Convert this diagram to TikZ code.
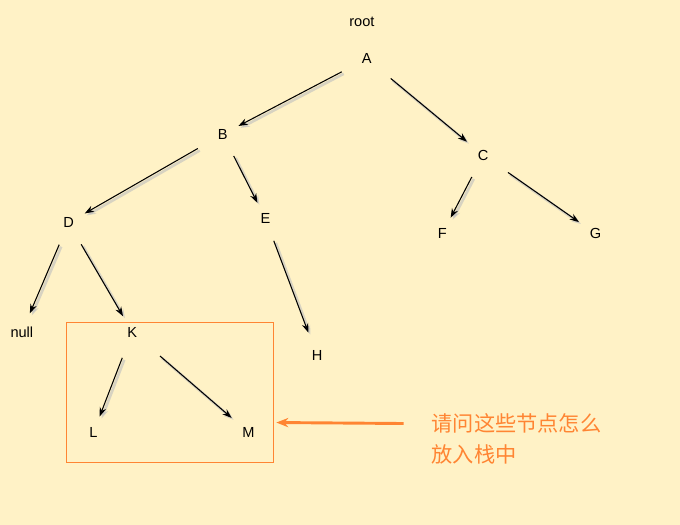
\documentclass[tikz,border=0pt]{standalone}
\usepackage{fontspec}
\setmainfont{Liberation Sans}
\newfontfamily\cjk{Noto Sans CJK SC}
\usetikzlibrary{arrows.meta}
\definecolor{bg}{HTML}{FFF2C6}
\definecolor{org}{HTML}{FF8533}
\begin{document}
\begin{tikzpicture}[x=0.75pt,y=-0.75pt,
  tn/.style={font=\fontsize{11}{12}\selectfont, inner sep=8pt},
  edge/.style={-{Stealth[length=7pt,width=5pt]}, thick, black},
  shade/.style={-{Stealth[length=7pt,width=5pt]}, line width=2pt, black!25, opacity=0.6, transform canvas={xshift=1.5pt,yshift=-1.5pt}}]
\fill[bg] (-2,-2) rectangle (682,526);
\useasboundingbox (0,0) rectangle (680,524);
\node[tn] (root) at (362,20) {root};
\node[tn] (A) at (367,57) {A};
\node[tn] (B) at (222,133) {B};
\node[tn] (C) at (484,154) {C};
\node[tn] (D) at (67,222) {D};
\node[tn] (E) at (265,218) {E};
\node[tn] (F) at (443,233) {F};
\node[tn] (G) at (597,233) {G};
\node[tn] (null) at (20,332) {null};
\node[tn] (K) at (131,332) {K};
\node[tn] (H) at (317,356) {H};
\node[tn] (L) at (92,433) {L};
\node[tn] (M) at (248,433) {M};
\foreach \a/\b/\s/\e in {A/B/8/0, A/C/8/0, B/D/8/0, B/E/5/0, D/null/5/2, D/K/5/0, E/H/5/6, C/F/5/0, C/G/8/0, K/L/8/0, K/M/12/0}{
  \draw[shade, shorten <=\s pt, shorten >=\e pt] (\a) -- (\b);
  \draw[edge, shorten <=\s pt, shorten >=\e pt] (\a) -- (\b);
}
\node[draw=org, thick, minimum width=208*0.75pt, minimum height=141*0.75pt, inner sep=0] (box) at (169,392.5) {};
\node[text=org, font=\cjk\fontsize{16}{23}\selectfont, align=left, anchor=north west, inner sep=0] (txt) at (432,414) {请问这些节点怎么\\放入栈中};
\coordinate (tip) at (276,423);
\draw[org, line width=2.2pt, -{Stealth[length=9pt,width=7pt]}] (404,424) -- (tip);
\end{tikzpicture}
\end{document}
